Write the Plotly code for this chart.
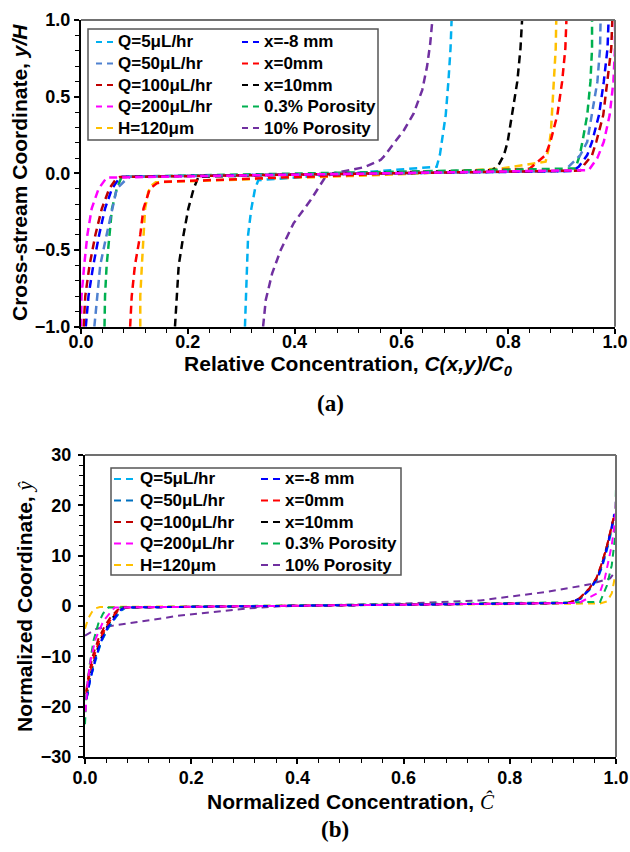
import plotly.graph_objects as go

# ---------------- series meta ----------------
names = ["Q=5μL/hr", "Q=50μL/hr", "Q=100μL/hr", "Q=200μL/hr", "H=120μm",
         "x=-8 mm", "x=0mm", "x=10mm", "0.3% Porosity", "10% Porosity"]
colors_a = ["#00B0F0", "#4F81D0", "#C00000", "#FF00FF", "#FFC000",
            "#0000FF", "#FF0000", "#000000", "#00B050", "#7030A0"]
colors_b = ["#00B0F0", "#0070C0", "#C00000", "#FF00FF", "#FFC000",
            "#0000FF", "#FF0000", "#000000", "#00B050", "#7030A0"]

# ---------------- panel (a): C/C0 vs y/H ----------------
a_q5_c = [0.307, 0.309, 0.310, 0.313, 0.319, 0.326, 0.332, 0.666, 0.672, 0.676, 0.683, 0.688, 0.692, 0.694]
a_q5_y = [-1.0, -0.8, -0.6, -0.4, -0.23, -0.1, -0.045, 0.043, 0.119, 0.206, 0.380, 0.598, 0.815, 1.0]

a_q50_c = [0.025, 0.030, 0.036, 0.048, 0.058, 0.067, 0.083, 0.092, 0.905, 0.920, 0.935, 0.948, 0.957, 0.967, 0.972, 0.973]
a_q50_y = [-1.0, -0.8, -0.6, -0.4, -0.23, -0.1, -0.045, -0.022, 0.015, 0.070, 0.119, 0.206, 0.380, 0.598, 0.815, 1.0]

a_q100_c = [0.005, 0.008, 0.016, 0.027, 0.039, 0.053, 0.064, 0.073, 0.935, 0.942, 0.957, 0.965, 0.978, 0.986, 0.993, 0.995]
a_q100_y = [-1.0, -0.8, -0.6, -0.4, -0.23, -0.1, -0.045, -0.024, 0.018, 0.054, 0.119, 0.206, 0.380, 0.598, 0.815, 1.0]

a_q200_c = [0.0, 0.001, 0.006, 0.012, 0.020, 0.033, 0.048, 0.951, 0.967, 0.979, 0.990, 0.997, 1.0, 1.0]
a_q200_y = [-1.0, -0.8, -0.6, -0.4, -0.23, -0.1, -0.028, 0.021, 0.10, 0.206, 0.380, 0.598, 0.815, 1.0]

a_h120_c = [0.111, 0.111, 0.114, 0.117, 0.120, 0.126, 0.133, 0.140, 0.370, 0.500, 0.640, 0.790, 0.870, 0.876, 0.880, 0.882, 0.885, 0.889, 0.890]
a_h120_y = [-1.0, -0.8, -0.6, -0.4, -0.23, -0.12, -0.076, -0.058, -0.035, -0.018, 0.0, 0.033, 0.076, 0.163, 0.271, 0.380, 0.598, 0.815, 1.0]

a_xm8_c = [0.009, 0.014, 0.023, 0.034, 0.045, 0.058, 0.069, 0.077, 0.920, 0.932, 0.948, 0.957, 0.970, 0.979, 0.986, 0.988]
a_xm8_y = [-1.0, -0.8, -0.6, -0.4, -0.23, -0.1, -0.045, -0.022, 0.015, 0.043, 0.119, 0.206, 0.380, 0.598, 0.815, 1.0]

a_x0_c = [0.092, 0.095, 0.101, 0.111, 0.117, 0.129, 0.142, 0.155, 0.840, 0.854, 0.870, 0.879, 0.892, 0.901, 0.907, 0.909]
a_x0_y = [-1.0, -0.8, -0.6, -0.4, -0.23, -0.1, -0.065, -0.055, 0.030, 0.070, 0.119, 0.206, 0.380, 0.598, 0.815, 1.0]

a_x10_c = [0.176, 0.179, 0.183, 0.192, 0.201, 0.211, 0.217, 0.220, 0.770, 0.782, 0.792, 0.799, 0.807, 0.817, 0.823, 0.826]
a_x10_y = [-1.0, -0.8, -0.6, -0.4, -0.23, -0.1, -0.045, -0.022, 0.020, 0.054, 0.119, 0.206, 0.380, 0.598, 0.815, 1.0]

a_p03_c = [0.044, 0.045, 0.048, 0.054, 0.058, 0.067, 0.073, 0.076, 0.926, 0.934, 0.939, 0.948, 0.954, 0.957, 0.957]
a_p03_y = [-1.0, -0.8, -0.6, -0.4, -0.23, -0.1, -0.045, -0.022, 0.032, 0.119, 0.206, 0.380, 0.598, 0.815, 1.0]

a_p10_c = [0.341, 0.346, 0.358, 0.374, 0.398, 0.430, 0.458, 0.473, 0.530, 0.561, 0.567, 0.586, 0.605, 0.623, 0.639, 0.648, 0.654, 0.658]
a_p10_y = [-1.0, -0.826, -0.652, -0.5, -0.326, -0.174, -0.022, 0.0, 0.040, 0.087, 0.109, 0.196, 0.283, 0.391, 0.543, 0.696, 0.848, 1.0]

# ---------------- panel (b): normalized ----------------
b_q5_c = [0.003, 0.010, 0.021, 0.031, 0.044, 0.058, 0.068, 0.076, 0.915, 0.934, 0.953, 0.966, 0.975, 0.984, 0.993, 0.997]
b_q5_y = [-18.5, -14.5, -10.5, -7.0, -4.2, -2.2, -0.9, -0.3, 0.6, 1.5, 3.5, 5.5, 8.1, 11.5, 15.5, 18.0]

b_q50_c = [0.003, 0.010, 0.020, 0.031, 0.045, 0.058, 0.069, 0.077, 0.915, 0.934, 0.952, 0.965, 0.974, 0.983, 0.992, 0.997]
b_q50_y = [-18.3, -14.4, -10.4, -7.0, -4.2, -2.2, -0.9, -0.3, 0.6, 1.5, 3.5, 5.5, 8.1, 11.5, 15.5, 18.2]

b_q100_c = [0.002, 0.007, 0.015, 0.025, 0.037, 0.049, 0.060, 0.068, 0.910, 0.931, 0.950, 0.963, 0.972, 0.982, 0.991, 0.996]
b_q100_y = [-17.0, -13.5, -9.8, -6.6, -4.0, -2.1, -0.9, -0.3, 0.6, 1.5, 3.5, 5.5, 8.1, 11.5, 15.5, 17.6]

b_q200_c = [0.001, 0.005, 0.011, 0.020, 0.035, 0.050, 0.056, 0.930, 0.951, 0.970, 0.979, 0.986, 0.992, 0.998, 1.0]
b_q200_y = [-21.0, -15.0, -10.5, -6.5, -2.9, -0.9, -0.3, 0.6, 1.8, 2.8, 5.5, 8.8, 12.1, 16.8, 21.5]

b_h120_c = [0.0, 0.003, 0.006, 0.013, 0.019, 0.028, 0.970, 0.983, 0.992, 0.998]
b_h120_y = [-4.5, -3.5, -2.5, -1.2, -0.5, -0.2, 0.5, 0.9, 2.5, 5.8]

b_xm8_c = [0.003, 0.010, 0.020, 0.030, 0.043, 0.056, 0.066, 0.074, 0.912, 0.933, 0.952, 0.965, 0.974, 0.983, 0.992, 0.997]
b_xm8_y = [-18.5, -14.5, -10.5, -7.0, -4.2, -2.2, -0.9, -0.3, 0.6, 1.5, 3.5, 5.5, 8.1, 11.5, 15.5, 18.3]

b_x0_c = [0.002, 0.008, 0.017, 0.027, 0.040, 0.052, 0.062, 0.070, 0.910, 0.931, 0.950, 0.963, 0.972, 0.982, 0.991, 0.996]
b_x0_y = [-17.5, -14.0, -10.0, -6.8, -4.1, -2.1, -0.9, -0.3, 0.6, 1.5, 3.5, 5.5, 8.1, 11.5, 15.5, 17.8]

b_x10_c = [0.003, 0.009, 0.019, 0.028, 0.041, 0.053, 0.063, 0.070, 0.912, 0.932, 0.951, 0.964, 0.973, 0.982, 0.992, 0.996]
b_x10_y = [-18.0, -14.2, -10.2, -6.9, -4.2, -2.2, -0.9, -0.3, 0.6, 1.5, 3.5, 5.5, 8.1, 11.5, 15.5, 18.1]

b_p03_c = [0.0, 0.003, 0.009, 0.016, 0.025, 0.034, 0.044, 0.965, 0.970, 0.983, 0.992, 0.998, 1.0, 1.0]
b_p03_y = [-23.5, -16.9, -11.5, -6.9, -3.5, -1.5, -0.3, 0.7, 0.8, 4.1, 8.1, 13.5, 20.1, 23.8]

b_p10_c = [0.0, 0.022, 0.053, 0.116, 0.179, 0.242, 0.305, 0.367, 0.430, 0.600, 0.744, 0.869, 0.951, 0.989, 1.0]
b_p10_y = [-5.9, -4.5, -3.9, -2.9, -1.9, -1.2, -0.5, -0.06, 0.1, 0.5, 1.1, 2.8, 4.3, 5.5, 7.0]

a_series = [(a_q5_c, a_q5_y), (a_q50_c, a_q50_y), (a_q100_c, a_q100_y), (a_q200_c, a_q200_y),
            (a_h120_c, a_h120_y), (a_xm8_c, a_xm8_y), (a_x0_c, a_x0_y), (a_x10_c, a_x10_y),
            (a_p03_c, a_p03_y), (a_p10_c, a_p10_y)]
b_series = [(b_q5_c, b_q5_y), (b_q50_c, b_q50_y), (b_q100_c, b_q100_y), (b_q200_c, b_q200_y),
            (b_h120_c, b_h120_y), (b_xm8_c, b_xm8_y), (b_x0_c, b_x0_y), (b_x10_c, b_x10_y),
            (b_p03_c, b_p03_y), (b_p10_c, b_p10_y)]

# drawing order, bottom -> top
draw_order = [9, 4, 0, 7, 6, 8, 1, 5, 2, 3]

# ---------------- geometry ----------------
W, H = 630, 852
ML, MR, MT, MB = 81, 14, 20, 95
PW, PH = W - ML - MR, H - MT - MB
FONT = "Liberation Sans"

def X(px):
    return (px - ML) / PW

def Y(py):
    return (H - MB - py) / PH

a_dom_x = [X(81), X(615)]
a_dom_y = [Y(326.7), Y(20)]
b_dom_x = [X(85), X(616)]
b_dom_y = [Y(757), Y(455)]

fig = go.Figure()
for i in draw_order:
    cx, cy = a_series[i]
    fig.add_trace(go.Scatter(x=cx, y=cy, mode="lines", name=names[i], showlegend=False,
                             line=dict(color=colors_a[i], width=2.5, dash="8px,5px"),
                             xaxis="x", yaxis="y"))
for i in draw_order:
    cx, cy = b_series[i]
    fig.add_trace(go.Scatter(x=cx, y=cy, mode="lines", name=names[i], showlegend=False,
                             line=dict(color=colors_b[i], width=2, dash="7px,5px"),
                             xaxis="x2", yaxis="y2"))

tickfont = dict(family=FONT, size=18, color="black", weight="bold")
titlefont = dict(family=FONT, size=21, color="black", weight="bold")

def axis(domain, rng, dtick, mdtick, fmt, anchor, title, standoff, tls):
    d = dict(domain=domain, range=rng, dtick=dtick, tick0=rng[0], tickformat=fmt,
             automargin=False, showgrid=False, zeroline=False, showline=True,
             linecolor="black", linewidth=2, ticks="outside", ticklen=5, tickwidth=1.5,
             tickcolor="black", ticklabelstandoff=tls,
             minor=dict(dtick=mdtick, ticks="outside", ticklen=4, tickwidth=1, tickcolor="black"),
             tickfont=tickfont, anchor=anchor, fixedrange=True)
    if title:
        d["title"] = dict(text=title, font=titlefont, standoff=standoff)
    return d

def inner(domain, rng, dtick, overlay, anchor, side):
    return dict(domain=domain, range=rng, dtick=dtick, tick0=rng[0], overlaying=overlay,
                anchor=anchor, side=side, automargin=False, showgrid=False, zeroline=False,
                showline=False, ticks="inside", ticklen=5, tickwidth=1.5, tickcolor="black",
                showticklabels=False, fixedrange=True)

hat = "<span style=\"font-family:'Liberation Serif';font-weight:normal\"><i>{}</i></span>"
fig.update_layout(
    template="none",
    width=W, height=H, margin=dict(l=ML, r=MR, t=MT, b=MB, pad=0),
    paper_bgcolor="white", plot_bgcolor="white", showlegend=False,
    xaxis=axis(a_dom_x, [0, 1], 0.2, 0.04, ".1f", "y",
               "Relative Concentration, <i>C(x,y)/C<sub>0</sub></i>", 4, -7),
    yaxis=axis(a_dom_y, [-1, 1], 0.5, 0.1, ".1f", "x", None, 0, 0),
    xaxis2=axis(b_dom_x, [0, 1], 0.2, 0.04, ".1f", "y2",
                "Normalized Concentration, " + hat.format("Ĉ"), 8, -2),
    yaxis2=axis(b_dom_y, [-30, 30], 10, 2, "d", "x2", None, 0, 3),
    xaxis3=inner(a_dom_x, [0, 1], 0.2, "x", "y", "bottom"),
    yaxis3=inner(a_dom_y, [-1, 1], 0.5, "y", "x", "left"),
    xaxis4=inner(b_dom_x, [0, 1], 0.2, "x2", "y2", "bottom"),
    yaxis4=inner(b_dom_y, [-30, 30], 10, "y2", "x2", "left"),
)

# y-axis titles (rotated text)
fig.add_annotation(text="Cross-stream Coordinate, <i>y/H</i>", xref="paper", yref="paper",
                   x=X(19), y=Y(173), xanchor="center", yanchor="middle", textangle=-90,
                   showarrow=False, font=titlefont)
fig.add_annotation(text="Normalized Coordinate, " + hat.format("ŷ"), xref="paper", yref="paper",
                   x=X(25), y=Y(606), xanchor="center", yanchor="middle", textangle=-90,
                   showarrow=False, font=titlefont)

# grey top/right frame lines
for xr, yr in (("x domain", "y domain"), ("x2 domain", "y2 domain")):
    fig.add_shape(type="line", xref=xr, yref=yr, x0=0, x1=1, y0=1, y1=1,
                  line=dict(color="#707070", width=2), layer="above")
    fig.add_shape(type="line", xref=xr, yref=yr, x0=1, x1=1, y0=0, y1=1,
                  line=dict(color="#707070", width=2), layer="above")

# ---------------- legends (two columns, boxed) ----------------
def draw_legend(box, sym_cols, txt_cols, rows, sym_len, colors, dash, width):
    x0, y0, x1, y1 = box
    fig.add_shape(type="rect", xref="paper", yref="paper", x0=X(x0), x1=X(x1), y0=Y(y1), y1=Y(y0),
                  line=dict(color="#555555", width=1.5), fillcolor="white", layer="above")
    for k, name in enumerate(names):
        col, row = divmod(k, 5)
        yy = Y(rows[row])
        sx = sym_cols[col]
        fig.add_shape(type="line", xref="paper", yref="paper", x0=X(sx), x1=X(sx + sym_len),
                      y0=yy, y1=yy, line=dict(color=colors[k], width=width, dash=dash),
                      layer="above")
        fig.add_annotation(text=name, xref="paper", yref="paper", x=X(txt_cols[col]), y=yy,
                           xanchor="left", yanchor="middle", showarrow=False,
                           font=dict(family=FONT, size=17, color="black", weight="bold"))

draw_legend((88, 29, 378, 140), (96, 242), (116, 262), (42, 63.5, 85, 106.5, 128),
            17, colors_a, "6px,5px", 2)
draw_legend((111, 468, 401, 575), (114, 261), (138, 283), (479, 500.5, 522, 543.5, 565),
            19, colors_b, "7px,5px", 2)

fig.add_annotation(text="<b>(a)</b>", xref="paper", yref="paper", x=X(330), y=Y(403),
                   xanchor="center", yanchor="middle", showarrow=False,
                   font=dict(family="Liberation Serif", size=23, color="black"))
fig.add_annotation(text="<b>(b)</b>", xref="paper", yref="paper", x=X(335), y=Y(829),
                   xanchor="center", yanchor="middle", showarrow=False,
                   font=dict(family="Liberation Serif", size=23, color="black"))

fig.write_html("out.html")
